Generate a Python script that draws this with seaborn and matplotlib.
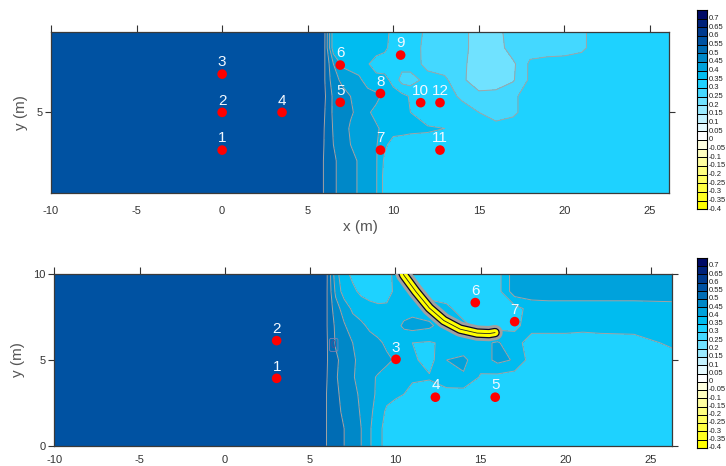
import numpy as np
import pandas as pd
import matplotlib
matplotlib.use("Agg")
import matplotlib.pyplot as plt
import seaborn as sns
from matplotlib.colors import ListedColormap, BoundaryNorm

# ---------------- data ----------------
grid_x = [-10, 5.5, 6, 6.5, 7, 7.5, 8, 8.5, 9, 9.5, 10, 10.5, 11, 12, 13, 14,
          15, 16, 17, 18, 19, 20, 21, 22, 24, 26.3]
grid_y = [0, 1, 2, 3, 4, 5, 6, 7, 8, 9, 10]

# rows: y = 0 ... 10 ; columns follow grid_x
top_field = [
    [.575, .575, .545, .505, .49, .465, .445, .43, .405, .33, .325, .325, .325, .325, .325, .325, .325, .325, .325, .325, .325, .325, .325, .325, .325, .325],
    [.575, .575, .545, .505, .49, .465, .445, .43, .405, .33, .325, .325, .325, .325, .325, .325, .325, .325, .325, .325, .325, .325, .325, .325, .325, .325],
    [.575, .575, .545, .505, .49, .465, .445, .43, .405, .34, .325, .325, .325, .325, .325, .325, .325, .325, .325, .325, .325, .325, .325, .325, .325, .325],
    [.575, .575, .547, .50, .48, .45, .44, .425, .405, .36, .33, .33, .33, .335, .335, .325, .325, .325, .325, .325, .325, .325, .325, .325, .325, .325],
    [.575, .575, .548, .495, .47, .445, .43, .41, .405, .39, .37, .365, .36, .355, .35, .325, .325, .325, .325, .325, .325, .325, .325, .325, .325, .325],
    [.575, .575, .55, .49, .47, .455, .44, .405, .39, .38, .37, .36, .35, .325, .325, .325, .30, .27, .29, .325, .325, .325, .325, .325, .325, .325],
    [.575, .575, .555, .49, .47, .45, .43, .42, .41, .39, .37, .365, .345, .325, .325, .29, .265, .27, .29, .325, .325, .325, .325, .325, .325, .325],
    [.575, .575, .55, .47, .44, .43, .41, .38, .37, .365, .335, .28, .275, .32, .31, .26, .22, .22, .245, .31, .325, .325, .325, .325, .325, .325],
    [.575, .575, .55, .45, .39, .375, .375, .355, .325, .325, .325, .32, .325, .285, .275, .265, .215, .21, .24, .31, .32, .325, .325, .325, .325, .325],
    [.575, .575, .55, .37, .375, .375, .375, .375, .375, .36, .33, .325, .33, .28, .275, .27, .22, .22, .28, .275, .275, .275, .29, .325, .325, .325],
    [.575, .575, .552, .37, .375, .375, .375, .375, .375, .36, .34, .325, .325, .29, .275, .27, .22, .23, .28, .275, .275, .275, .29, .325, .325, .325],
]

bottom_field = [
    [.575, .575, .548, .52, .50, .475, .45, .405, .37, .325, .325, .325, .325, .325, .325, .325, .325, .325, .325, .325, .325, .325, .325, .325, .325, .325],
    [.575, .575, .548, .52, .50, .475, .45, .405, .37, .325, .325, .325, .325, .325, .325, .325, .325, .325, .325, .325, .325, .325, .325, .325, .325, .325],
    [.575, .575, .548, .515, .49, .47, .445, .41, .38, .34, .325, .325, .325, .325, .325, .325, .325, .325, .325, .325, .325, .325, .325, .325, .325, .325],
    [.575, .575, .548, .51, .485, .465, .44, .415, .39, .37, .36, .35, .33, .325, .325, .325, .325, .325, .325, .325, .325, .325, .325, .325, .325, .325],
    [.575, .575, .55, .505, .48, .455, .43, .41, .395, .38, .37, .365, .36, .355, .39, .395, .345, .335, .325, .325, .325, .325, .325, .325, .325, .325],
    [.575, .575, .552, .51, .48, .455, .44, .425, .42, .41, .395, .37, .36, .33, .40, .41, .37, .415, .395, .325, .325, .325, .325, .325, .325, .33],
    [.575, .575, .552, .495, .47, .45, .43, .42, .41, .39, .37, .36, .35, .345, .36, .37, .39, .405, .37, .325, .325, .325, .325, .325, .33, .36],
    [.575, .575, .55, .49, .455, .425, .41, .39, .375, .375, .38, .41, .42, .41, .37, .36, .335, .33, .34, .37, .37, .37, .365, .37, .37, .375],
    [.575, .575, .55, .47, .43, .39, .375, .37, .36, .36, .37, .375, .38, .37, .36, .33, .325, .325, .33, .37, .375, .375, .375, .375, .375, .38],
    [.575, .575, .55, .44, .375, .36, .34, .325, .325, .33, .36, .37, .37, .33, .325, .325, .325, .33, .43, .43, .43, .43, .43, .43, .43, .43],
    [.575, .575, .552, .42, .365, .34, .325, .325, .325, .33, .365, .37, .34, .325, .325, .325, .325, .33, .43, .43, .43, .43, .43, .43, .43, .43],
]

level_values = [-0.4, -0.35, -0.3, -0.25, -0.2, -0.15, -0.1, -0.05, 0,
                0.05, 0.1, 0.15, 0.2, 0.25, 0.3, 0.35, 0.4, 0.45, 0.5,
                0.55, 0.6, 0.65, 0.7]
level_labels = ["-0.4", "-0.35", "-0.3", "-0.25", "-0.2", "-0.15", "-0.1",
                "-0.05", "0", "0.05", "0.1", "0.15", "0.2", "0.25", "0.3",
                "0.35", "0.4", "0.45", "0.5", "0.55", "0.6", "0.65", "0.7"]
level_colors = ["#ffff00", "#ffff20", "#ffff40", "#ffff60", "#ffff80",
                "#ffffa0", "#ffffc0", "#ffffe0", "#ffffff", "#e6faff",
                "#c4f2ff", "#9aeaff", "#70e2ff", "#44d8ff", "#1ed2ff",
                "#00bcf0", "#00a2dc", "#0088c8", "#006cb4", "#0052a2",
                "#003a8e", "#00227a", "#000a66"]

top_ids = ["1", "2", "3", "4", "5", "6", "7", "8", "9", "10", "11", "12"]
top_px = [0, 0, 0, 3.5, 6.9, 6.9, 9.25, 9.25, 10.43, 11.6, 12.73, 12.73]
top_py = [2.66, 5.0, 7.37, 5.0, 5.62, 7.93, 2.66, 6.17, 8.55, 5.6, 2.66, 5.6]

bot_ids = ["1", "2", "3", "4", "5", "6", "7"]
bot_px = [3.04, 3.04, 10.04, 12.35, 15.86, 14.69, 17.0]
bot_py = [3.93, 6.13, 5.04, 2.83, 2.83, 8.35, 7.24]

breakwater_x = [10.35, 10.5, 11.2, 12.0, 12.85, 13.8, 14.8, 15.5, 15.85]
breakwater_y = [10.3, 9.95, 9.0, 8.03, 7.3, 6.8, 6.57, 6.54, 6.6]

small_label = "0"
small_label_x = [6.39]
small_label_y = [5.88]

# ---------------- style ----------------
sns.set_theme(style="white")
plt.rcParams["font.family"] = ["Liberation Sans", "DejaVu Sans"]

W, H = 726, 466
fig = plt.figure(figsize=(W / 100, H / 100), dpi=100)

cmap = ListedColormap(level_colors)
bounds = level_values + [0.75]
norm = BoundaryNorm(bounds, cmap.N)

X, Y = np.meshgrid(grid_x, grid_y)


def draw_panel(ax, field, ids, px, py, xmax, yticks, xpad):
    Z = np.array(field)
    ax.contourf(X, Y, Z, levels=bounds, cmap=cmap, norm=norm)
    ax.contour(X, Y, Z, levels=level_values, colors="#a4a4a4", linewidths=0.7)
    pts = pd.DataFrame({"x": px, "y": py, "id": ids})
    sns.scatterplot(data=pts, x="x", y="y", ax=ax, color="#ff0000", s=48,
                    edgecolor="none", linewidth=0, zorder=5)
    for _, r in pts.iterrows():
        ax.annotate(r["id"], (r["x"], r["y"]), xytext=(0, 8.5),
                    textcoords="offset points", ha="center", va="center",
                    fontsize=11, color="#f2f8ff", zorder=6)
    ax.set_xlim(-10, xmax)
    ax.set_ylim(0, 10)
    ax.set_xticks([-10, -5, 0, 5, 10, 15, 20, 25])
    ax.set_xticklabels(["-10", "-5", "0", "5", "10", "15", "20", "25"])
    ax.set_yticks(yticks)
    ax.set_yticklabels([str(t) for t in yticks])
    ax.tick_params(axis="x", bottom=False, top=True, labelbottom=True,
                   direction="out", length=5, width=0.8, labelsize=8,
                   colors="#333333", pad=xpad)
    ax.tick_params(axis="y", left=True, right=True, labelleft=True,
                   labelright=False, direction="out", length=4, width=0.8,
                   labelsize=8, colors="#333333", pad=2)
    for s in ax.spines.values():
        s.set_color("#3a3a3a")
        s.set_linewidth(0.9)
    ax.set_ylabel("y (m)", fontsize=11, color="#555555", labelpad=6)
    ax.set_xlabel("")


def draw_scale(cax):
    vals = np.array(level_values).reshape(-1, 1)
    cax.pcolormesh([0, 1], np.arange(len(level_values) + 1), vals, cmap=cmap,
                   norm=norm, edgecolors="black", linewidth=0.5)
    cax.set_xlim(0, 1)
    cax.set_ylim(0, len(level_values))
    cax.set_xticks([])
    cax.yaxis.tick_right()
    cax.set_yticks(np.arange(len(level_values)) + 0.15)
    cax.set_yticklabels(level_labels)
    cax.tick_params(axis="y", length=0, pad=1, labelsize=5.5, colors="#222222")
    for s in cax.spines.values():
        s.set_color("black")
        s.set_linewidth(0.8)


# top panel
ax1 = fig.add_axes([51 / W, 1 - 193 / H, 618 / W, 161.3 / H])
draw_panel(ax1, top_field, top_ids, top_px, top_py, 26.11, [5], 4)
ax1.set_xlabel("x (m)", fontsize=11, color="#555555", labelpad=3)

# bottom panel
ax2 = fig.add_axes([54.3 / W, 1 - 445.7 / H, 617.4 / W, 171.4 / H])
draw_panel(ax2, bottom_field, bot_ids, bot_px, bot_py, 26.21, [0, 5, 10], 1.5)
ax2.plot(breakwater_x, breakwater_y, color="#a0a0a0", lw=11,
         solid_capstyle="round", zorder=3)
ax2.plot(breakwater_x, breakwater_y, color="#05052a", lw=6.8,
         solid_capstyle="round", zorder=3)
ax2.plot(breakwater_x, breakwater_y, color="#ffff00", lw=5.0,
         solid_capstyle="round", zorder=3)
ax2.plot(breakwater_x, breakwater_y, color="#222222", lw=0.6,
         solid_capstyle="round", zorder=3)
ax2.text(small_label_x[0], small_label_y[0], small_label, fontsize=7,
         color="#505090", ha="center", va="center", zorder=4,
         bbox=dict(boxstyle="round,pad=0.15", fc="none", ec="#8080b0", lw=0.6))

# colour scales
cax1 = fig.add_axes([697 / W, 1 - 209.3 / H, 10 / W, 199.3 / H])
draw_scale(cax1)
cax2 = fig.add_axes([697 / W, 1 - 448 / H, 10 / W, 190.3 / H])
draw_scale(cax2)

fig.savefig("out.png", dpi=100)
